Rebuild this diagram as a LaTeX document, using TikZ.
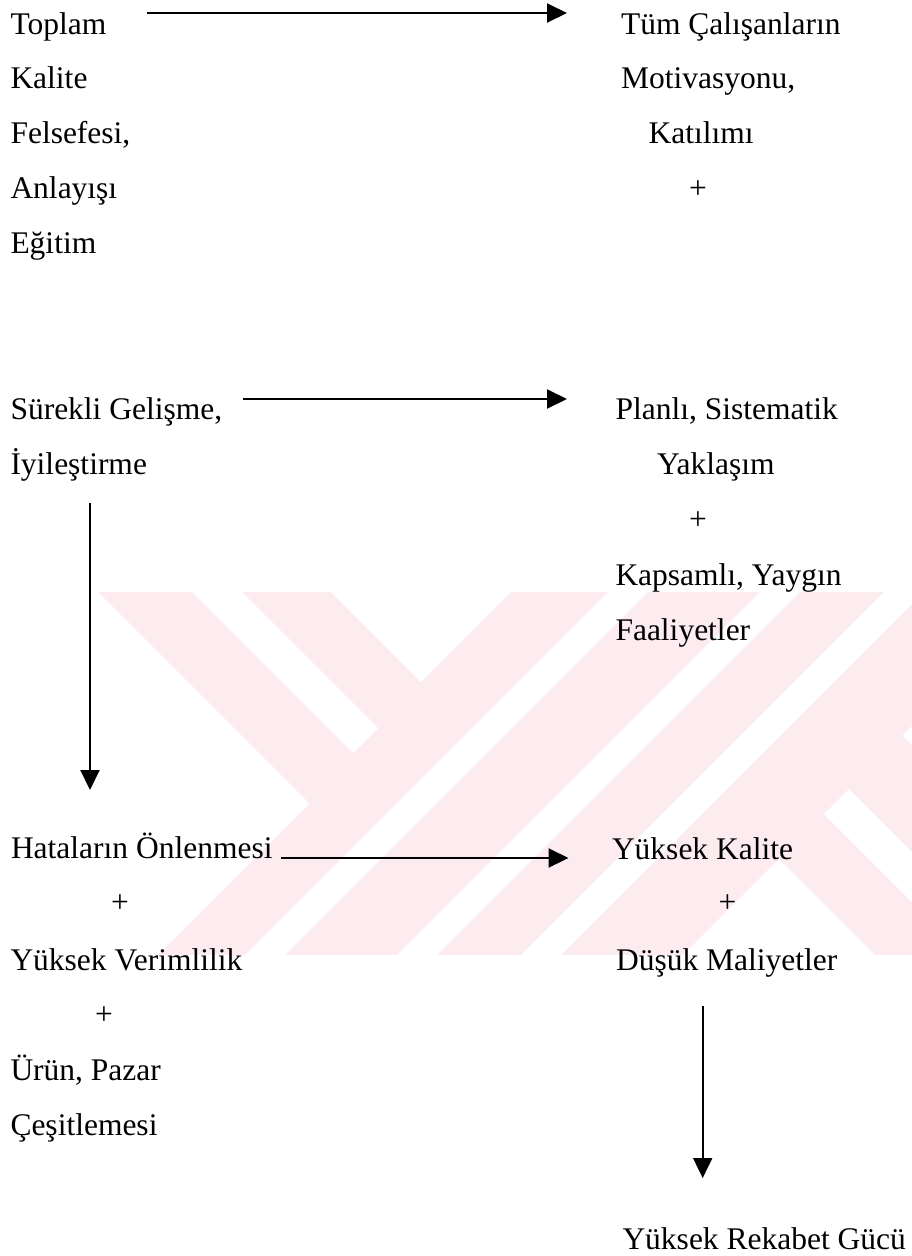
\documentclass[tikz,border=0pt]{standalone}
\usepackage{fontspec}
\setmainfont{Liberation Serif}
\usetikzlibrary{arrows.meta}
\definecolor{wmpink}{RGB}{252,236,240}
\tikzset{
  lbl/.style={anchor=base west, inner sep=0pt, outer sep=0pt, font=\fontsize{31.5}{38}\selectfont},
  plus/.style={anchor=base, inner sep=0pt, outer sep=0pt, font=\fontsize{31.5}{38}\selectfont},
  arr/.style={line width=2pt, -{Triangle[length=20pt,width=19pt]}},
  gap/.style={fill=white}
}
\begin{document}
\begin{tikzpicture}[x=1pt,y=-1pt]
\useasboundingbox (0,0) rectangle (912,1256);

% faint striped emblem in the background
\begin{scope}
  \clip (0,592) rectangle (912,955);
  \fill[wmpink] (0,592) rectangle (912,955);
  \fill[gap] (-400,94) -- (309.5,803.5) -- (-400,1513) -- cycle;
  \fill[gap] (100,500) -- (150,500) -- (378,728) -- (353,753) -- cycle;
  \fill[gap] (239,500) -- (603,500) -- (421,682) -- cycle;
  \fill[gap] (800,400) -- (840,400) -- (140,1100) -- (100,1100) -- cycle;
  \fill[gap] (952,400) -- (992,400) -- (292,1100) -- (252,1100) -- cycle;
  \fill[gap] (1076,400) -- (1116,400) -- (416,1100) -- (376,1100) -- cycle;
  \fill[gap] (779,859) -- (538,1100) -- (1020,1100) -- cycle;
  \fill[gap] (824,814) -- (849,789) -- (1100,1040) -- (1100,1090) -- cycle;
  \fill[gap] (902.5,735.5) -- (969,669) -- (1200,900) -- (1200,1033) -- cycle;
\end{scope}

% left column
\node[lbl] (toplam)  at (10.5,34.5) {Toplam};
\node[lbl] (kalite)  at (10.5,88.5) {Kalite};
\node[lbl] (felsefe) at (10.5,143)  {Felsefesi,};
\node[lbl] (anlayis) at (10.5,198)  {Anlayışı};
\node[lbl] (egitim)  at (10.5,253)  {Eğitim};

\node[lbl] (surekli) at (10.5,419.3) {Sürekli Gelişme,};
\node[lbl] (iyiles)  at (10.5,474)   {İyileştirme};

\node[lbl]  (hata)  at (11,858.5)  {Hataların Önlenmesi};
\node[plus] (p3)    at (120,912.5) {+};
\node[lbl]  (verim) at (10.5,970)  {Yüksek Verimlilik};
\node[plus] (p4)    at (104,1024)  {+};
\node[lbl]  (urun)  at (10.5,1080) {Ürün, Pazar};
\node[lbl]  (cesit) at (10.5,1135) {Çeşitlemesi};

% right column
\node[lbl]  (tum)     at (621,34.5)  {Tüm Çalışanların};
\node[lbl]  (motiv)   at (621,88.5)  {Motivasyonu,};
\node[lbl]  (katilim) at (648.6,143) {Katılımı};
\node[plus] (p1)      at (698,198)   {+};

\node[lbl]  (planli)   at (615.5,419.3) {Planlı, Sistematik};
\node[lbl]  (yaklasim) at (657,474)     {Yaklaşım};
\node[plus] (p2)       at (698,529)     {+};
\node[lbl]  (kapsamli) at (615.5,585)   {Kapsamlı, Yaygın};
\node[lbl]  (faaliyet) at (615.5,640)   {Faaliyetler};

\node[lbl]  (ykalite) at (612,859)     {Yüksek Kalite};
\node[plus] (p5)      at (727.5,912.5) {+};
\node[lbl]  (dusuk)   at (616,970)     {Düşük Maliyetler};
\node[lbl]  (rekabet) at (622.5,1249)  {Yüksek Rekabet Gücü};

% arrow ends
\coordinate (a1s) at (147,13);    \coordinate (a1e) at (567,13);
\coordinate (a2s) at (243,399);   \coordinate (a2e) at (567,399);
\coordinate (a3s) at (90,503);    \coordinate (a3e) at (90,790);
\coordinate (a4s) at (281,858);   \coordinate (a4e) at (568.5,858);
\coordinate (a5s) at (702.7,1006); \coordinate (a5e) at (702.7,1178);

\draw[arr] (a1s) -- (a1e);
\draw[arr] (a2s) -- (a2e);
\draw[arr] (a3s) -- (a3e);
\draw[arr] (a4s) -- (a4e);
\draw[arr] (a5s) -- (a5e);
\end{tikzpicture}
\end{document}
